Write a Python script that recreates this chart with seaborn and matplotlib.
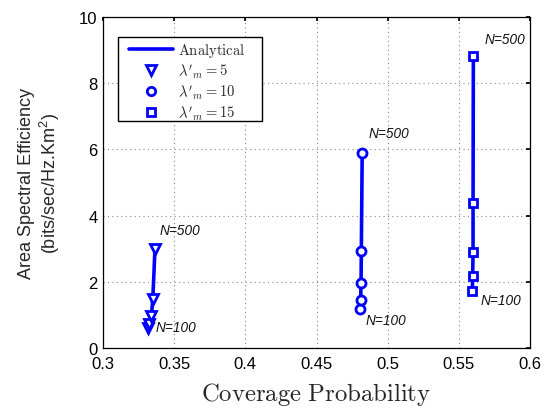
import matplotlib
matplotlib.use("Agg")
import matplotlib.pyplot as plt
import seaborn as sns
import pandas as pd
import numpy as np
from matplotlib.lines import Line2D
from matplotlib.patches import Rectangle

sns.set_theme(style="white")
plt.rcParams['font.family'] = ['Liberation Sans', 'DejaVu Sans']
plt.rcParams['mathtext.fontset'] = 'cm'

# Data (N = 100 ... 500)
cov_l5 = [0.3314, 0.3325, 0.3340, 0.3350, 0.3365]
ase_l5 = [0.60, 0.73, 0.97, 1.48, 2.98]
cov_l10 = [0.4808, 0.4810, 0.4813, 0.4815, 0.4821]
ase_l10 = [1.18, 1.45, 1.96, 2.93, 5.89]
cov_l15 = [0.5595, 0.5597, 0.5600, 0.5600, 0.5602]
ase_l15 = [1.72, 2.18, 2.90, 4.38, 8.82]
n_users = [100, 125, 167, 250, 500]

series = [
    (r"$\lambda'_m = 5$", cov_l5, ase_l5, "v", 7.0),
    (r"$\lambda'_m = 10$", cov_l10, ase_l10, "o", 6.5),
    (r"$\lambda'_m = 15$", cov_l15, ase_l15, "s", 5.8),
]

rows = []
for name, xs, ys, m, ms in series:
    for x, y, n in zip(xs, ys, n_users):
        rows.append({"series": name, "cov": x, "ase": y, "N": n})
df = pd.DataFrame(rows)

fig = plt.figure(figsize=(5.47, 4.10), dpi=100)
ax = fig.add_axes([103/547, 1-349/410, (530-103)/547, (349-18)/410])

blue = "#0000ff"
for name, xs, ys, m, ms in series:
    sub = df[df["series"] == name]
    sns.lineplot(data=sub, x="cov", y="ase", ax=ax, color=blue, lw=2.6,
                 sort=False, estimator=None, legend=False)
    ax.plot(sub["cov"], sub["ase"], linestyle="none", marker=m, ms=ms,
            mfc="white", mec=blue, mew=2.0)

ax.set_xlim(0.3, 0.6)
ax.set_ylim(0, 10)
ax.set_xticks([0.3, 0.35, 0.4, 0.45, 0.5, 0.55, 0.6])
ax.set_xticklabels(["0.3", "0.35", "0.4", "0.45", "0.5", "0.55", "0.6"])
ax.set_yticks([0, 2, 4, 6, 8, 10])
ax.tick_params(axis="both", labelsize=12, direction="in", length=3,
               top=True, right=True, colors="black", pad=4)
ax.tick_params(axis="x", pad=6)
ax.grid(True, linestyle=(0, (1, 3)), color="#888888", lw=0.8)
for s in ax.spines.values():
    s.set_color("black")
    s.set_linewidth(0.9)

ax.set_xlabel(r"$\mathrm{Coverage\ Probability}$", fontsize=17.8, labelpad=6)
ax.set_ylabel("Area Spectral Efficiency\n(bits/sec/Hz.Km$^\\mathregular{2}$)", fontsize=13, labelpad=12)

# annotations
ann = dict(fontsize=9.8, style="italic", color="#111111")
ax.text(0.3394, 3.44, "N=500", va="baseline", **ann)
ax.text(0.3372, 0.63, "N=100", va="center", **ann)
ax.text(0.4869, 6.37, "N=500", va="baseline", **ann)
ax.text(0.4848, 0.85, "N=100", va="center", **ann)
ax.text(0.5684, 9.21, "N=500", va="baseline", **ann)
ax.text(0.5656, 1.45, "N=100", va="center", **ann)

handles = [Line2D([], [], color=blue, lw=2.6, label=r"$\mathrm{Analytical}$")]
for name, xs, ys, m, ms in series:
    handles.append(Line2D([], [], color=blue, linestyle="none", marker=m, ms=ms - 0.5,
                          mfc="white", mec=blue, mew=2.0, label=name))
leg = ax.legend(handles=handles, loc="upper left",
                bbox_to_anchor=((129 - 103) / 427, (349 - 42) / 331),
                borderaxespad=0, fontsize=10.5, frameon=False,
                borderpad=0.0, labelspacing=0.18, handlelength=3.0,
                handletextpad=0.35)
# legend frame (MATLAB style, wider than its contents)
ax.add_patch(Rectangle(((118 - 103) / 427, (349 - 122) / 331), 144 / 427, 84 / 331,
                       transform=ax.transAxes, facecolor="white", edgecolor="black",
                       lw=1.0, zorder=4.9))
leg.set_zorder(5)

fig.savefig("out.png", dpi=100)
